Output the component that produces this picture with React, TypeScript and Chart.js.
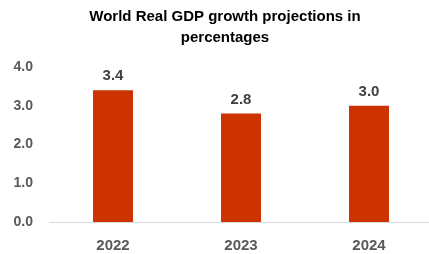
import React, { useEffect, useRef } from "react";
import { Chart, registerables } from "chart.js";

Chart.register(...registerables);

const categories = ["2022", "2023", "2024"];
const growthValues = [3.4, 2.8, 3.0];
const titleLines = ["World Real GDP growth projections in", "percentages"];

const barLabelPlugin = {
  id: "barLabels",
  afterDatasetsDraw(chart: any) {
    const ctx = chart.ctx;
    const meta = chart.getDatasetMeta(0);
    ctx.save();
    ctx.font = "bold 15px 'Liberation Sans', Arial, sans-serif";
    ctx.fillStyle = "#404040";
    ctx.textAlign = "center";
    ctx.textBaseline = "alphabetic";
    meta.data.forEach((el: any, i: number) => {
      const v = chart.data.datasets[0].data[i] as number;
      ctx.fillText(v.toFixed(1), el.x, el.y - 10);
    });
    ctx.restore();
  },
};

export default function App() {
  const ref = useRef<HTMLCanvasElement>(null);
  useEffect(() => {
    if (!ref.current) return;
    const chart = new Chart(ref.current, {
      type: "bar",
      data: {
        labels: categories,
        datasets: [
          {
            data: growthValues,
            backgroundColor: "#CC3300",
            borderWidth: 0,
            categoryPercentage: 0.3125,
            barPercentage: 1,
          },
        ],
      },
      options: {
        animation: false,
        responsive: false,
        maintainAspectRatio: false,
        layout: { padding: 0 },
        plugins: {
          legend: { display: false },
          tooltip: { enabled: false },
          title: {
            display: true,
            text: titleLines,
            color: "#000000",
            font: { family: "'Liberation Sans', Arial, sans-serif", size: 15, weight: "bold", lineHeight: 1.4 },
            padding: { top: 6, bottom: 19 },
          },
        },
        scales: {
          x: {
            grid: { display: false, drawTicks: false },
            border: { display: true, color: "#D9D9D9", width: 1 },
            ticks: {
              color: "#595959",
              padding: 15,
              font: { family: "'Liberation Sans', Arial, sans-serif", size: 15, weight: "bold" },
            },
            afterFit: (s: any) => {
              s.height = 32;
            },
          },
          y: {
            min: 0,
            max: 4,
            grid: { display: false, drawTicks: false },
            border: { display: false },
            ticks: {
              stepSize: 1,
              color: "#595959",
              padding: 16,
              font: { family: "'Liberation Sans', Arial, sans-serif", size: 14, weight: "bold" },
              callback: (v: any) => Number(v).toFixed(1),
            },
            afterFit: (s: any) => {
              s.width = 49;
            },
          },
          yPad: {
            position: "right",
            display: true,
            grid: { display: false, drawTicks: false },
            border: { display: false },
            ticks: { display: false },
            afterFit: (s: any) => {
              s.width = 17;
            },
          },
        },
      },
      plugins: [barLabelPlugin],
    } as any);
    return () => chart.destroy();
  }, []);
  return (
    <div style={{ position: "absolute", left: 0, top: 0, width: 429, height: 254, overflow: "hidden", background: "#fff" }}>
      <canvas ref={ref} width={450} height={254} style={{ display: "block" }} />
    </div>
  );
}
